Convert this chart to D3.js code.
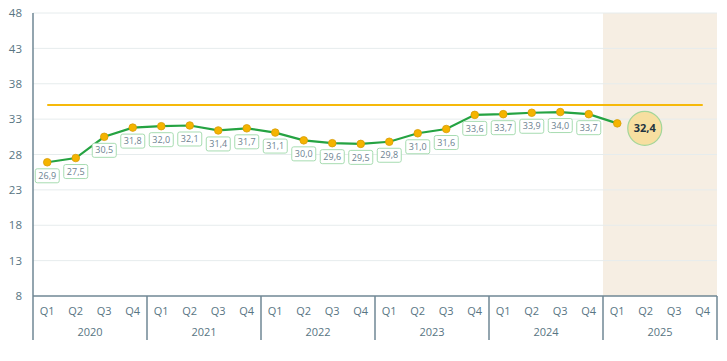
<!DOCTYPE html>
<html>
<head>
<meta charset="utf-8">
<script src="https://cdn.jsdelivr.net/npm/d3@7"></script>
<style>
  body { margin: 0; background: #fff; }
  text { font-family: "Open Sans", "Noto Sans", sans-serif; }
</style>
</head>
<body>
<svg id="chart" width="727" height="361"></svg>
<script>
// years and quarters on the x axis
var years = ["2020", "2021", "2022", "2023", "2024", "2025"];
var quarters = ["Q1", "Q2", "Q3", "Q4"];

// index values per quarter (last one is the highlighted current value)
var values = [26.9, 27.5, 30.5, 31.8, 32.0, 32.1, 31.4, 31.7, 31.1, 30.0, 29.6, 29.5,
              29.8, 31.0, 31.6, 33.6, 33.7, 33.9, 34.0, 33.7, 32.4];

// target line value
var target = 35;

// y ticks
var yTicks = [8, 13, 18, 23, 28, 33, 38, 43, 48];

// year that is shaded as forecast period
var shadedYear = "2025";

var svg = d3.select("#chart"),
    margin = {top: 13, right: 10, bottom: 65, left: 33},
    width = +svg.attr("width") - margin.left - margin.right,
    height = +svg.attr("height") - margin.top - margin.bottom,
    g = svg.append("g").attr("transform", "translate(" + margin.left + "," + margin.top + ")");

// one slot per quarter
var keys = [];
years.forEach(function(y) {
  quarters.forEach(function(q) { keys.push(y + "-" + q); });
});

var x = d3.scaleBand().domain(keys).range([0, width]);
var y = d3.scaleLinear().domain([8, 48]).range([height, 0]);
var cx = function(i) { return x(keys[i]) + x.bandwidth() / 2; };

var fmt = function(v) { return v.toFixed(1).replace(".", ","); };

// shaded forecast year
g.append("rect")
  .attr("x", x(shadedYear + "-Q1"))
  .attr("y", 0)
  .attr("width", x.bandwidth() * 4)
  .attr("height", height)
  .attr("fill", "#f6eee3");

// gridlines
g.append("g")
  .selectAll("line")
  .data(yTicks.slice(1))
  .enter().append("line")
  .attr("x1", 0)
  .attr("x2", width)
  .attr("y1", function(d) { return y(d); })
  .attr("y2", function(d) { return y(d); })
  .attr("stroke", "#e6eced")
  .attr("stroke-width", 1);

// y axis
var yAxis = g.append("g")
  .call(d3.axisLeft(y).tickValues(yTicks).tickSize(0).tickPadding(11));
yAxis.select(".domain").remove();
yAxis.selectAll("text").attr("fill", "#587583").attr("font-size", 11.5);

g.append("line")
  .attr("x1", 0).attr("x2", 0)
  .attr("y1", 0).attr("y2", height + 44)
  .attr("stroke", "#6f8795").attr("stroke-width", 1.5);

// x axis baseline
g.append("line")
  .attr("x1", 0).attr("x2", width)
  .attr("y1", height).attr("y2", height)
  .attr("stroke", "#6f8795").attr("stroke-width", 1.5);

// year separators
g.append("g")
  .selectAll("line")
  .data(years)
  .enter().append("line")
  .attr("x1", function(d) { return x(d + "-Q4") + x.bandwidth(); })
  .attr("x2", function(d) { return x(d + "-Q4") + x.bandwidth(); })
  .attr("y1", height)
  .attr("y2", height + 44)
  .attr("stroke", "#6f8795")
  .attr("stroke-width", 1.5);

// quarter labels
g.append("g")
  .selectAll("text")
  .data(keys)
  .enter().append("text")
  .attr("x", function(d) { return x(d) + x.bandwidth() / 2; })
  .attr("y", height + 19)
  .attr("text-anchor", "middle")
  .attr("font-size", 11)
  .attr("fill", "#587583")
  .text(function(d) { return d.split("-")[1]; });

// year labels
g.append("g")
  .selectAll("text")
  .data(years)
  .enter().append("text")
  .attr("x", function(d) { return x(d + "-Q2") + x.bandwidth(); })
  .attr("y", height + 40)
  .attr("text-anchor", "middle")
  .attr("font-size", 11)
  .attr("fill", "#587583")
  .text(function(d) { return d; });

// target line
g.append("line")
  .attr("x1", cx(0))
  .attr("x2", cx(keys.length - 1))
  .attr("y1", y(target))
  .attr("y2", y(target))
  .attr("stroke", "#f6b90a")
  .attr("stroke-width", 2);

// main line
var line = d3.line()
  .x(function(d, i) { return cx(i); })
  .y(function(d) { return y(d); });

g.append("path")
  .datum(values)
  .attr("d", line)
  .attr("fill", "none")
  .attr("stroke", "#25a342")
  .attr("stroke-width", 2.2);

// value labels (all but the last)
var labels = g.append("g")
  .selectAll("g")
  .data(values.slice(0, -1))
  .enter().append("g")
  .attr("transform", function(d, i) { return "translate(" + cx(i) + "," + (y(d) + 13.5) + ")"; });

labels.append("rect")
  .attr("x", -12).attr("y", -7)
  .attr("width", 24).attr("height", 14)
  .attr("rx", 2)
  .attr("fill", "#fff")
  .attr("stroke", "#a7dcb1")
  .attr("stroke-width", 1);

labels.append("text")
  .attr("text-anchor", "middle")
  .attr("dy", "0.35em")
  .attr("font-size", 9)
  .attr("fill", "#6c8190")
  .text(fmt);

// points
g.append("g")
  .selectAll("circle")
  .data(values)
  .enter().append("circle")
  .attr("cx", function(d, i) { return cx(i); })
  .attr("cy", function(d) { return y(d); })
  .attr("r", 3.8)
  .attr("fill", "#f5b400")
  .attr("stroke", "#d79c08")
  .attr("stroke-width", 0.8);

// highlighted current value bubble
var last = values.length - 1;
var bubble = g.append("g")
  .attr("transform", "translate(" + (cx(last + 1) - 1) + "," + (y(values[last]) + 5) + ")");

bubble.append("circle")
  .attr("r", 17)
  .attr("fill", "#f7dfa0")
  .attr("stroke", "#a3d69a")
  .attr("stroke-width", 1.2);

bubble.append("text")
  .attr("text-anchor", "middle")
  .attr("dy", "0.35em")
  .attr("font-size", 11)
  .attr("font-weight", "bold")
  .attr("fill", "#1f3440")
  .text(fmt(values[last]));
</script>
</body>
</html>
